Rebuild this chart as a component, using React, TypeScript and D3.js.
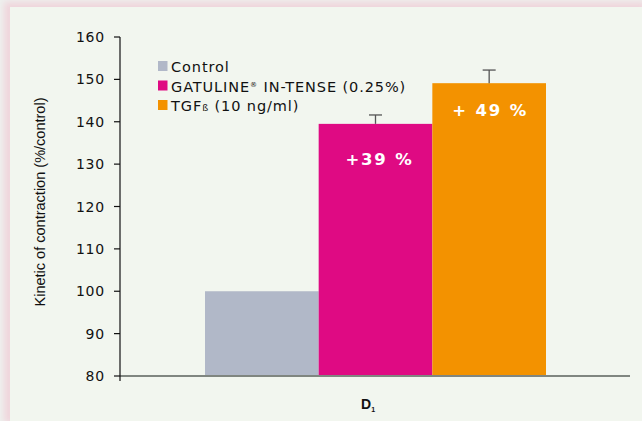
import React from "react";
import * as d3 from "d3";

const categories = ["Control", "GATULINE® IN-TENSE (0.25%)", "TGFß (10 ng/ml)"];
const values = [100, 139.5, 149.1];
const errors = [0, 2.1, 3.1];
const barLabels = ["", "+39 %", "+ 49 %"];
const colors = ["#b1b8c8", "#df0a83", "#f39200"];
const yTicks = [80, 90, 100, 110, 120, 130, 140, 150, 160];

export default function App() {
  const W = 642, H = 421;
  const y = d3.scaleLinear().domain([80, 160]).range([376, 37]);
  const x = d3.scaleBand().domain(categories).range([205, 546]).padding(0);
  const axisX = 120;
  const font = "'DejaVu Sans', Verdana, sans-serif";
  return (
    <svg width={W} height={H} style={{ position: "absolute", left: 0, top: 0 }}>
      <defs>
        <filter id="sh" x="-5%" y="-5%" width="110%" height="110%">
          <feGaussianBlur stdDeviation="3" />
        </filter>
      </defs>
      <rect x={0} y={0} width={W} height={H} fill="#eef0ee" />
      <rect x={4} y={2} width={W} height={H} fill="#f0d6dc" filter="url(#sh)" />
      <rect x={10} y={7} width={W} height={H} fill="#f2f6ef" />
      {categories.map((c, i) => (
        <rect key={c} x={x(c)!} y={y(values[i])} width={x.bandwidth()} height={y(80) - y(values[i])} fill={colors[i]} />
      ))}
      {categories.map((c, i) =>
        errors[i] > 0 ? (
          <g key={"e" + c} stroke="#555" strokeWidth={1.3}>
            <line x1={x(c)! + x.bandwidth() / 2} x2={x(c)! + x.bandwidth() / 2} y1={y(values[i])} y2={y(values[i] + errors[i])} />
            <line x1={x(c)! + x.bandwidth() / 2 - 6.5} x2={x(c)! + x.bandwidth() / 2 + 6.5} y1={y(values[i] + errors[i])} y2={y(values[i] + errors[i])} />
          </g>
        ) : null
      )}
      <text x={x(categories[1])! + x.bandwidth() / 2 + 4} y={y(values[1]) + 41} textAnchor="middle" fill="#fff" fontFamily={font} fontWeight="bold" fontSize={16.5} letterSpacing={1.8}>{barLabels[1]}</text>
      <text x={x(categories[2])! + x.bandwidth() / 2 + 1} y={y(values[2]) + 33} textAnchor="middle" fill="#fff" fontFamily={font} fontWeight="bold" fontSize={16.5} letterSpacing={1.8}>{barLabels[2]}</text>
      <line x1={axisX} x2={630} y1={y(80)} y2={y(80)} stroke="#808680" strokeWidth={2} />
      <line x1={axisX} x2={axisX} y1={y(160)} y2={y(80) + 5} stroke="#111" strokeWidth={1.2} />
      {yTicks.map((t) => (
        <g key={t}>
          <line x1={axisX - 6} x2={axisX} y1={y(t)} y2={y(t)} stroke="#111" strokeWidth={1.2} />
          <text x={105} y={y(t) + 5} textAnchor="end" fontFamily={font} fontSize={14} fill="#111" letterSpacing={0.8}>{t}</text>
        </g>
      ))}
      <text transform={`translate(45,202) rotate(-90)`} textAnchor="middle" fontFamily="'Liberation Sans Narrow', 'Arial Narrow', sans-serif" fontSize={15} fill="#111" textLength={209} lengthAdjust="spacingAndGlyphs">Kinetic of contraction (%/control)</text>
      {categories.map((c, i) => (
        <g key={"l" + c}>
          <rect x={158} y={61 + i * 19.5} width={9.5} height={10} fill={colors[i]} />
          <text x={171} y={72 + i * 19.5} fontFamily={font} fontSize={14.5} fill="#111" letterSpacing={0.9}>
            {i === 1 ? (
              <>
                GATULINE<tspan fontSize={7} dy={-5}>®</tspan><tspan dy={5}> IN-TENSE (0.25%)</tspan>
              </>
            ) : i === 2 ? (
              <>
                TGF<tspan fontSize={9.5}>ß</tspan> (10 ng/ml)
              </>
            ) : (
              c
            )}
          </text>
        </g>
      ))}
      <text x={361} y={409} fontFamily="'Liberation Sans', Arial, sans-serif" fontSize={14} fontWeight="bold" fill="#111">D<tspan fontSize={7} dy={3}>1</tspan></text>
    </svg>
  );
}
